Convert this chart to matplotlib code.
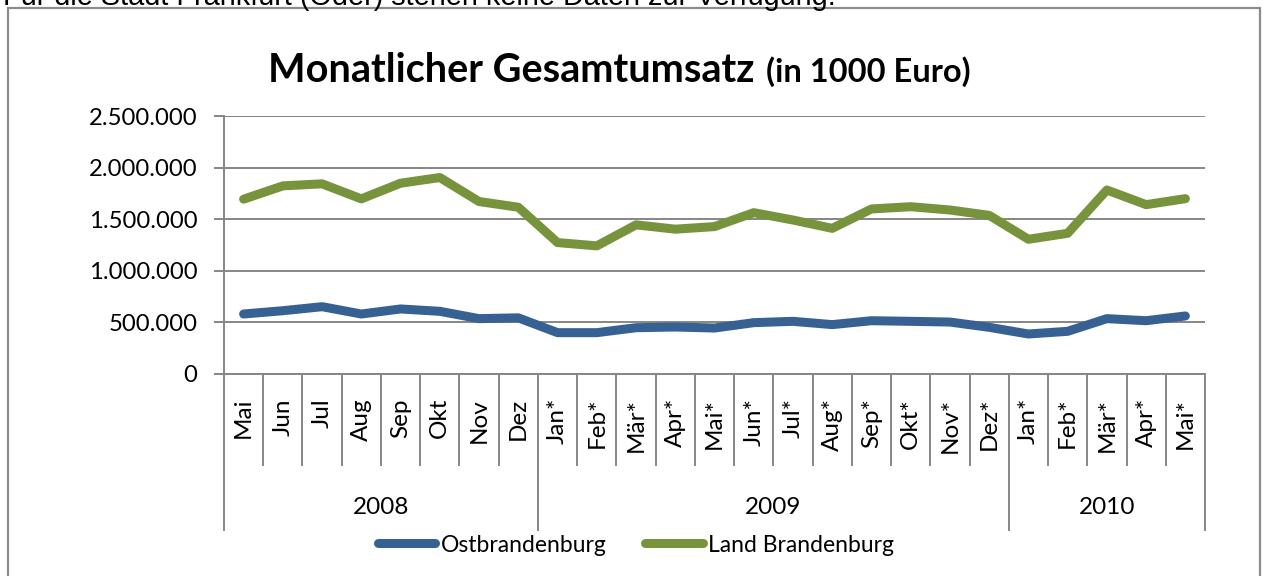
import numpy as np
import matplotlib
matplotlib.use("Agg")
import matplotlib.pyplot as plt
import matplotlib.transforms as mtransforms
from matplotlib.patches import Rectangle
from matplotlib.ticker import FuncFormatter

# --- data (in 1000 Euro) ---
months = ["Mai", "Jun", "Jul", "Aug", "Sep", "Okt", "Nov", "Dez",
          "Jan*", "Feb*", "Mär*", "Apr*", "Mai*", "Jun*", "Jul*", "Aug*",
          "Sep*", "Okt*", "Nov*", "Dez*",
          "Jan*", "Feb*", "Mär*", "Apr*", "Mai*"]
years = ["2008", "2009", "2010"]
year_counts = [8, 12, 5]

ostbrandenburg = [582000, 614000, 653000, 582000, 631000, 608000, 537000, 545000,
                  401000, 401000, 449000, 456000, 446000, 498000, 511000, 479000,
                  517000, 511000, 504000, 453000,
                  388000, 414000, 537000, 517000, 563000]
land_brandenburg = [1696000, 1825000, 1845000, 1699000, 1851000, 1906000, 1673000, 1618000,
                    1275000, 1243000, 1447000, 1405000, 1430000, 1565000, 1494000, 1413000,
                    1601000, 1623000, 1591000, 1539000,
                    1307000, 1365000, 1785000, 1643000, 1701000]

BLUE = "#376193"
GREEN = "#77933c"
GRID = "#868686"
FONT = "Lato"

W, H = 1263, 576
fig = plt.figure(figsize=(W / 100, H / 100), dpi=100)


def fy(py):
    return 1 - py / H


def fx(px):
    return px / W


# chart frame (bottom edge runs past the image)
fig.patches.append(Rectangle((fx(8), fy(620)), fx(1260) - fx(8), fy(8) - fy(620),
                             transform=fig.transFigure, fill=False,
                             edgecolor="#8c8c8c", linewidth=1.6))

# sentence from the surrounding document, cut by the top edge as in the source
fig.text(fx(3), fy(5), "Für die Stadt Frankfurt (Oder) stehen keine Daten zur Verfügung.",
         fontsize=20.8, family="Liberation Sans", ha="left", va="baseline")

ax = fig.add_axes([fx(224), fy(374), fx(1205) - fx(224), fy(116.3) - fy(374)])
x = np.arange(len(months))
ax.plot(x, ostbrandenburg, color=BLUE, lw=6.5, solid_capstyle="round",
        solid_joinstyle="round", label="Ostbrandenburg", zorder=3)
ax.plot(x, land_brandenburg, color=GREEN, lw=6.5, solid_capstyle="round",
        solid_joinstyle="round", label="Land Brandenburg", zorder=3)

ax.set_xlim(-0.5, len(months) - 0.5)
ax.set_ylim(0, 2500000)
ax.set_yticks(np.arange(0, 2500001, 500000))
ax.yaxis.set_major_formatter(FuncFormatter(lambda v, p: f"{int(v):,}".replace(",", ".")))
ax.tick_params(axis="y", length=7, width=1.4, color=GRID, pad=12,
               labelsize=17.2, labelfontfamily=FONT)
ax.set_xticks([])
ax.yaxis.grid(True, color=GRID, linewidth=1.4)
ax.set_axisbelow(True)
for side in ("top", "right"):
    ax.spines[side].set_visible(False)
for side in ("left", "bottom"):
    ax.spines[side].set_color(GRID)
    ax.spines[side].set_linewidth(1.4)

# multi-level category axis
blend = mtransforms.blended_transform_factory(ax.transData, fig.transFigure)
year_edges = np.concatenate([[0], np.cumsum(year_counts)]) - 0.5
for b in np.arange(len(months) + 1) - 0.5:
    bottom = 530 if b in year_edges else 465
    ax.plot([b, b], [fy(374), fy(bottom)], transform=blend, color=GRID,
            lw=1.4, clip_on=False)
for i, m in enumerate(months):
    ax.text(i, fy(398), m, transform=blend, rotation=90, ha="center", va="top",
            fontsize=17.5, family=FONT)
for k, yr in enumerate(years):
    cx = (year_edges[k] + year_edges[k + 1]) / 2
    ax.text(cx, fy(507), yr, transform=blend, ha="center", va="center",
            fontsize=17.5, family=FONT)

# title: large part followed directly by the smaller unit note
t1 = fig.text(fx(268), fy(82), "Monatlicher Gesamtumsatz", fontsize=28.5,
              fontweight="bold", family=FONT, ha="left", va="baseline")
fig.canvas.draw()
bb = t1.get_window_extent()
fig.text(fx(bb.x1 + 11), fy(82), "(in 1000 Euro)", fontsize=23.5,
         fontweight="bold", family=FONT, ha="left", va="baseline")

fig.legend(loc="center", bbox_to_anchor=(fx(636), fy(545)), ncol=2, frameon=False,
           handlelength=2.5, handletextpad=0.25, columnspacing=1.7,
           prop={"family": FONT, "size": 16.5})

fig.savefig("out.png", dpi=100)
